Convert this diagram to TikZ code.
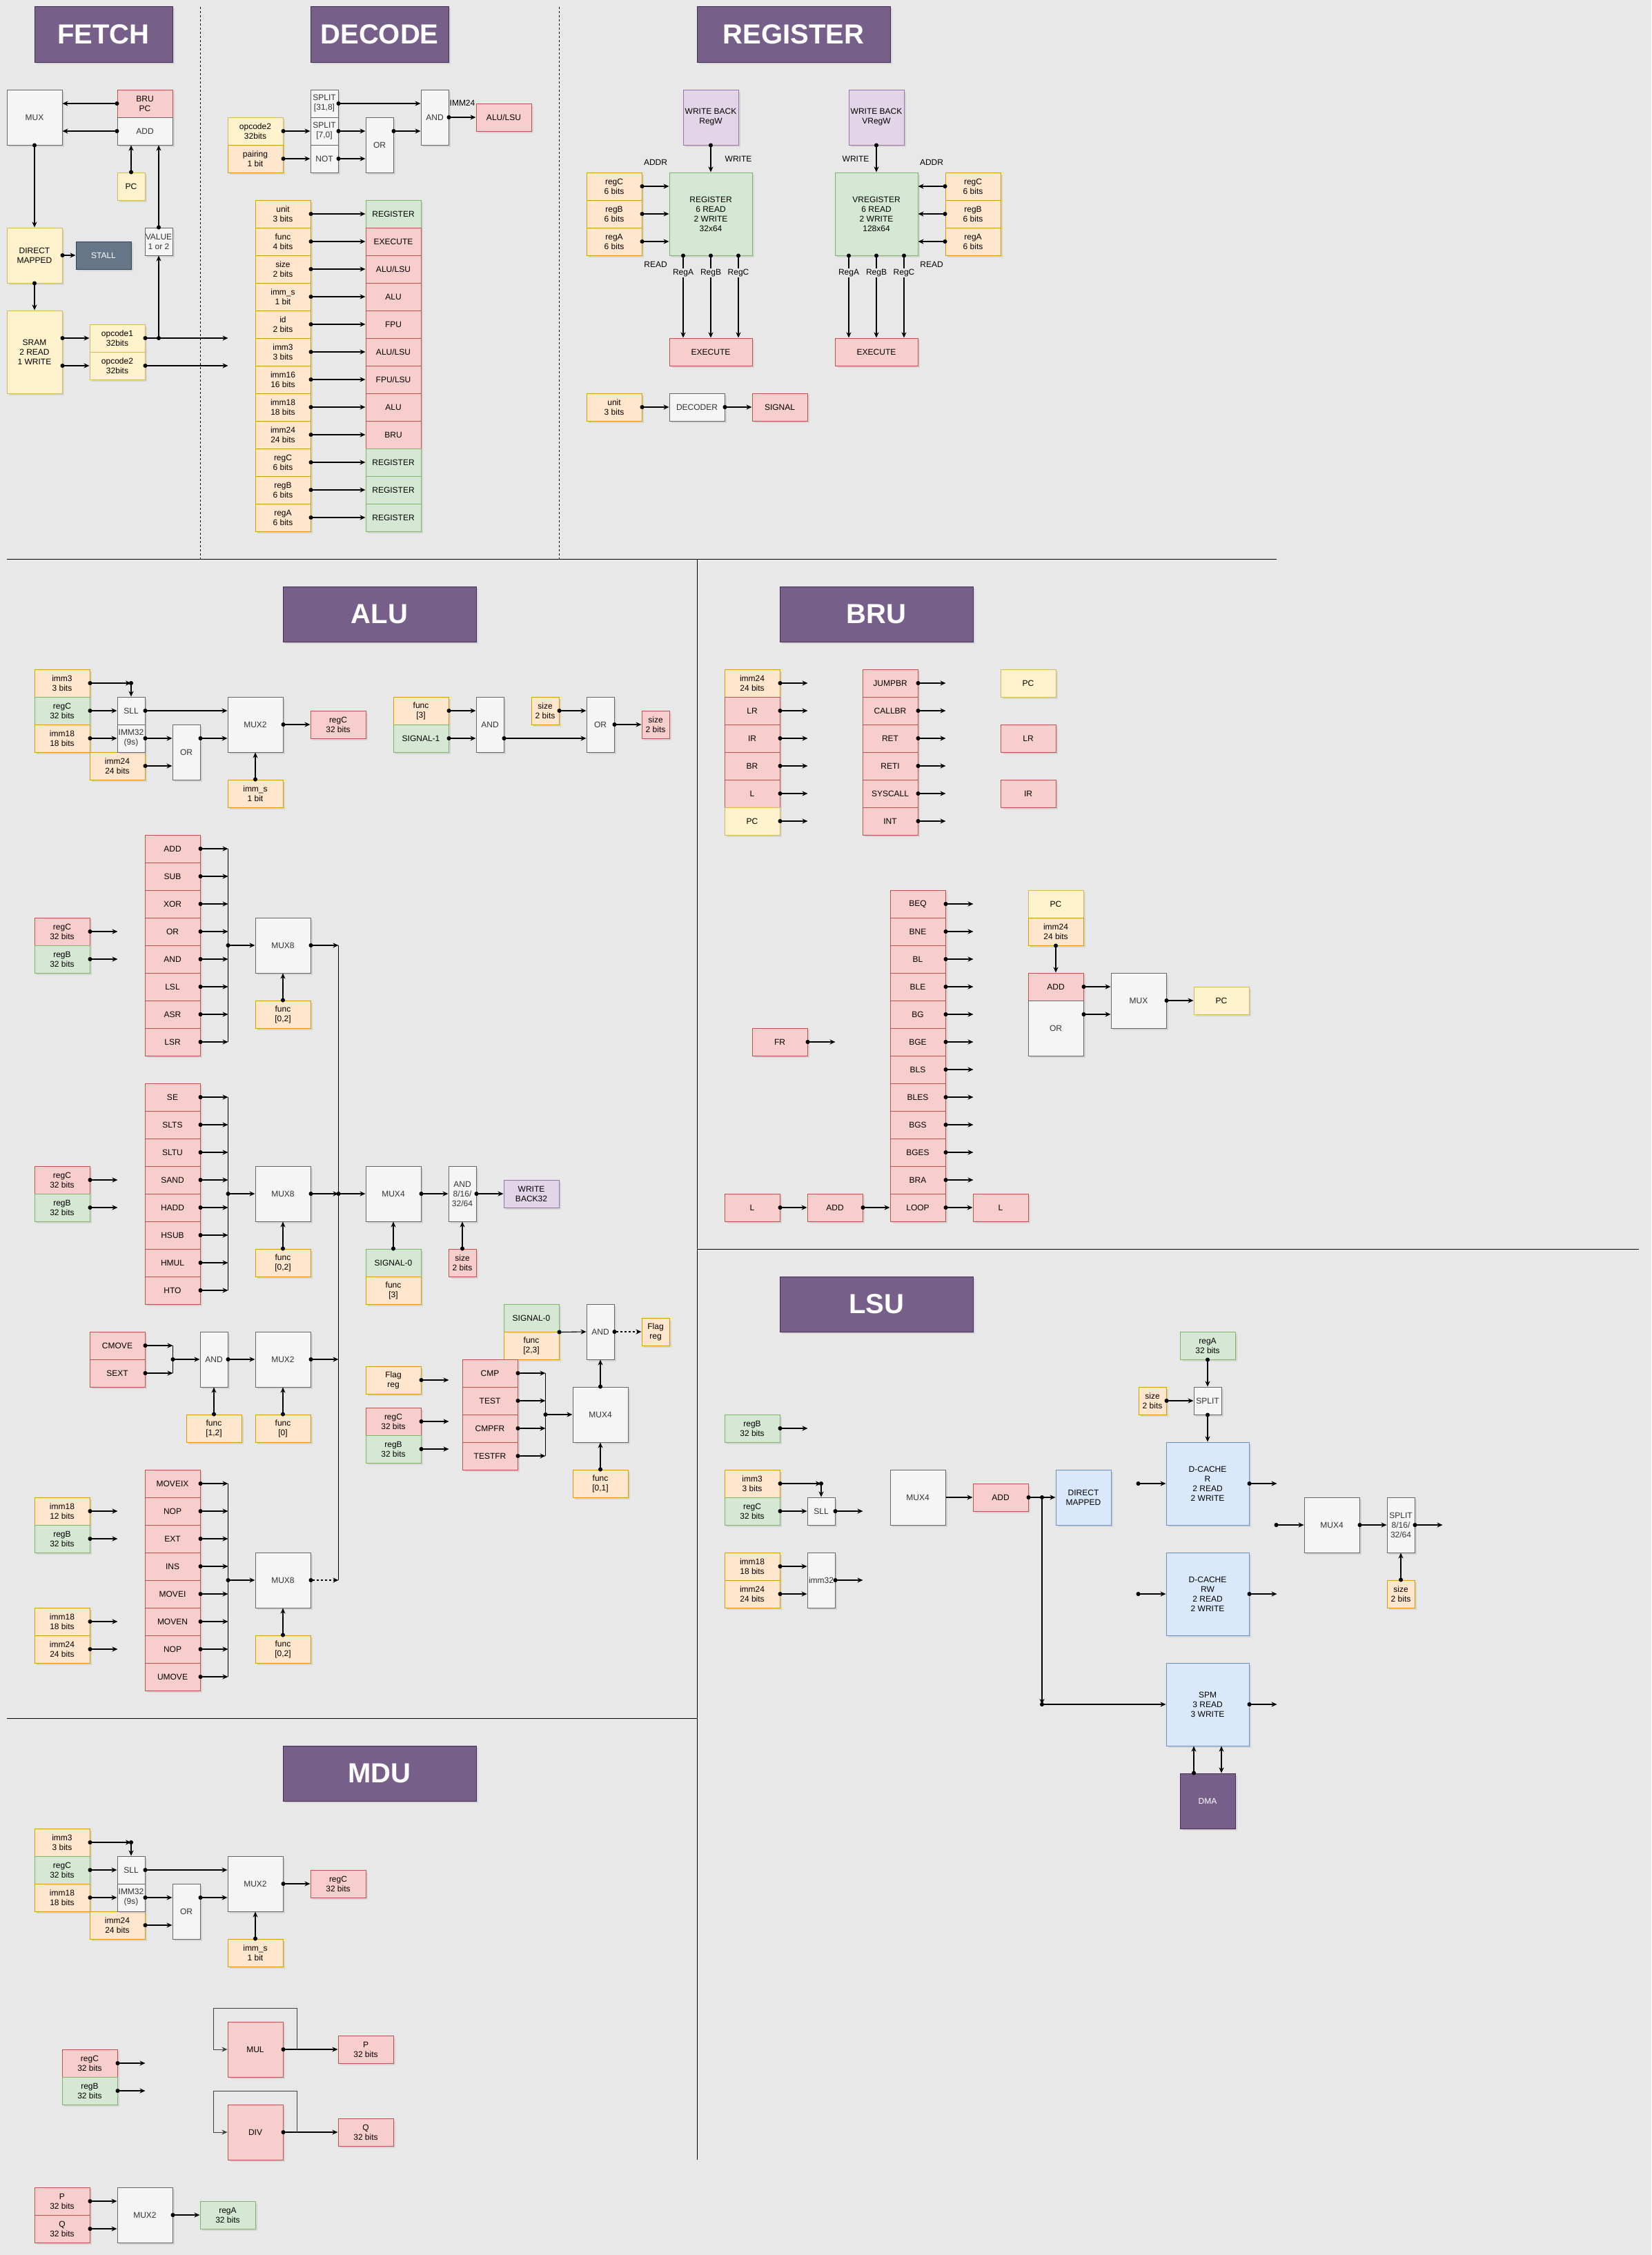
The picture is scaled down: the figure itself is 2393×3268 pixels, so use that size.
\documentclass[tikz,border=0pt]{standalone}
\usepackage{fontspec}
\setmainfont{Liberation Sans}
\usetikzlibrary{arrows.meta,shadows,calc}

\definecolor{bgc}{HTML}{E8E8E8}
\definecolor{yelF}{HTML}{FFF2CC}\definecolor{yelD}{HTML}{D6B656}
\definecolor{orgF}{HTML}{FFE6CC}\definecolor{orgD}{HTML}{D79B00}
\definecolor{redF}{HTML}{F8CECC}\definecolor{redD}{HTML}{B85450}
\definecolor{grnF}{HTML}{D5E8D4}\definecolor{grnD}{HTML}{82B366}
\definecolor{purF}{HTML}{E1D5E7}\definecolor{purD}{HTML}{9673A6}
\definecolor{bluF}{HTML}{DAE8FC}\definecolor{bluD}{HTML}{6C8EBF}
\definecolor{gryF}{HTML}{F5F5F5}\definecolor{gryD}{HTML}{666666}
\definecolor{gryT}{HTML}{333333}
\definecolor{ttlF}{HTML}{76608A}\definecolor{ttlD}{HTML}{432D57}
\definecolor{stlF}{HTML}{647687}\definecolor{stlD}{HTML}{314354}

\tikzset{
  cell/.style={draw, line width=1pt, minimum width=80pt, minimum height=40pt, inner sep=0pt, align=center,
    drop shadow={shadow xshift=2.5pt, shadow yshift=-2.5pt, opacity=.18}},
  sq/.style={minimum width=80pt, minimum height=80pt},
  nar/.style={minimum width=40pt, minimum height=40pt},
  tall/.style={minimum width=40pt, minimum height=80pt},
  big/.style={minimum width=120pt, minimum height=120pt},
  yelbox/.style={cell, fill=yelF, draw=yelD},
  orgbox/.style={cell, fill=orgF, draw=orgD},
  redbox/.style={cell, fill=redF, draw=redD},
  grnbox/.style={cell, fill=grnF, draw=grnD},
  purbox/.style={cell, fill=purF, draw=purD},
  blubox/.style={cell, fill=bluF, draw=bluD},
  grybox/.style={cell, fill=gryF, draw=gryD, text=gryT},
  stlbox/.style={cell, fill=stlF, draw=stlD, text=white},
  ttlbox/.style={cell, fill=ttlF, draw=ttlD, text=white, minimum width=280pt, minimum height=80pt,
    font=\fontsize{40}{48}\selectfont\bfseries},
  tag/.style={inner sep=1pt},
  wire/.style={line width=1.1pt, {Circle[length=6pt]}-{Stealth[length=8pt,width=7pt,inset=2.5pt]}, shorten <=-3pt},
  wirea/.style={line width=1.1pt, -{Stealth[length=8pt,width=7pt,inset=2.5pt]}},
  wireb/.style={line width=1.1pt, {Stealth[length=8pt,width=7pt,inset=2.5pt]}-{Stealth[length=8pt,width=7pt,inset=2.5pt]}},
  bus/.style={line width=1.1pt},
  divline/.style={line width=1pt},
  loopline/.style={line width=1pt, draw=black!75, -{Stealth[length=8pt,width=7pt,inset=2.5pt]}},
}

\begin{document}
\begin{tikzpicture}[x=1pt, y=-1pt, font=\fontsize{12}{14}\selectfont]
% Фон
\useasboundingbox (-10,-10) rectangle (2383,3258);
\fill[bgc] (-10,-10) rectangle (2383,3258);

% Разделители
\draw[divline, dash pattern=on 3pt off 3pt] (280,0) -- (280,800);
\draw[divline, dash pattern=on 3pt off 3pt] (800,0) -- (800,800);
\draw[divline] (0,800) -- (1840,800);
\draw[divline] (1000,800) -- (1000,3120);
\draw[divline] (1000,1800) -- (2365,1800);
\draw[divline] (0,2480) -- (1000,2480);

% FETCH
\node[ttlbox, minimum width=200pt] (tfetch) at (140,40) {FETCH};
\node[grybox, sq] (fmux) at (40,160) {MUX};
\node[redbox] (fbru) at (200,140) {BRU\\PC};
\node[grybox] (fadd) at (200,180) {ADD};
\node[yelbox, nar] (fpc) at (180,260) {PC};
\node[grybox, nar] (fval) at (220,340) {VALUE\\1 or 2};
\node[yelbox, sq] (fdm) at (40,360) {DIRECT\\MAPPED};
\node[stlbox] (fstall) at (140,360) {STALL};
\node[yelbox, minimum height=120pt] (fsram) at (40,500) {SRAM\\2 READ\\1 WRITE};
\node[yelbox] (fop1) at (160,480) {opcode1\\32bits};
\node[yelbox] (fop2) at (160,520) {opcode2\\32bits};
\draw[wire] (fbru.west) -- (fmux.east |- fbru.west);
\draw[wire] (fadd.west) -- (fmux.east |- fadd.west);
\draw[wire] (fpc.north) -- (fpc.north |- fadd.south);
\draw[wire] (fval.north) -- (fval.north |- fadd.south);
\draw[wire] (fmux.south) -- (fdm.north);
\draw[wire] (fdm.east) -- (fstall.west);
\draw[wire] (fdm.south) -- (fsram.north);
\draw[wire] (fsram.east |- fop1.west) -- (fop1.west);
\draw[wire] (fsram.east |- fop2.west) -- (fop2.west);
\draw[wire] (fop1.east) -- ++(120,0);
\draw[wire] (fop2.east) -- ++(120,0);
\draw[wire] (fval.south |- fop1.east) -- (fval.south);

% DECODE
\node[ttlbox, minimum width=200pt] (tdecode) at (540,40) {DECODE};
\node[yelbox] (dop2) at (360,180) {opcode2\\32bits};
\node[orgbox] (dpair) at (360,220) {pairing\\1 bit};
\node[grybox, nar] (dsp1) at (460,140) {SPLIT\\{[31,8]}};
\node[grybox, nar] (dsp2) at (460,180) {SPLIT\\{[7,0]}};
\node[grybox, nar] (dnot) at (460,220) {NOT};
\node[grybox, tall] (dor) at (540,200) {OR};
\node[grybox, tall] (dand) at (620,160) {AND};
\node[redbox] (dalu) at (720,160) {ALU/LSU};
\node[tag] (dimm) at (660,139) {IMM24};
\draw[wire] (dop2.east) -- (dsp2.west);
\draw[wire] (dpair.east) -- (dnot.west);
\draw[wire] (dsp1.east) -- (dand.west |- dsp1.east);
\draw[wire] (dsp2.east) -- (dor.west |- dsp2.east);
\draw[wire] (dnot.east) -- (dor.west |- dnot.east);
\draw[wire] (dor.east |- dsp2.east) -- (dand.west |- dsp2.east);
\draw[wire] (dand.east) -- (dalu.west);

% Поля инструкции
\foreach \lt/\rt/\st [count=\i from 0] in {unit\\3 bits/REGISTER/grnbox, func\\4 bits/EXECUTE/redbox,
    size\\2 bits/{ALU/LSU}/redbox, imm\_s\\1 bit/ALU/redbox, id\\2 bits/FPU/redbox,
    imm3\\3 bits/{ALU/LSU}/redbox, imm16\\16 bits/{FPU/LSU}/redbox, imm18\\18 bits/ALU/redbox,
    imm24\\24 bits/BRU/redbox, regC\\6 bits/REGISTER/grnbox, regB\\6 bits/REGISTER/grnbox,
    regA\\6 bits/REGISTER/grnbox} {
  \node[orgbox] (dl\i) at (400,300+40*\i) {\lt};
  \node[\st] (dr\i) at (560,300+40*\i) {\rt};
  \draw[wire] (dl\i.east) -- (dr\i.west);
}

% REGISTER
\node[ttlbox] (tregister) at (1140,40) {REGISTER};
\node[purbox, sq] (wbr) at (1020,160) {WRITE BACK\\RegW};
\node[purbox, sq] (wbv) at (1260,160) {WRITE BACK\\VRegW};
\node[grnbox, big] (rreg) at (1020,300) {REGISTER\\6 READ\\2 WRITE\\32x64};
\node[grnbox, big] (vreg) at (1260,300) {VREGISTER\\6 READ\\2 WRITE\\128x64};
\node[redbox, minimum width=120pt] (rex) at (1020,500) {EXECUTE};
\node[redbox, minimum width=120pt] (vex) at (1260,500) {EXECUTE};
\foreach \r [count=\i from 0] in {regC,regB,regA} {
  \node[orgbox] (rl\i) at (880,260+40*\i) {\r\\6 bits};
  \node[orgbox] (rr\i) at (1400,260+40*\i) {\r\\6 bits};
  \draw[wire] (rl\i.east) -- (rreg.west |- rl\i.east);
  \draw[wire] (rr\i.west) -- (vreg.east |- rr\i.west);
}
\draw[wire] (wbr.south) -- (rreg.north);
\draw[wire] (wbv.south) -- (vreg.north);
\foreach \r [count=\i from -1] in {RegA,RegB,RegC} {
  \draw[wire] ([xshift=\i*40pt]rreg.south) -- node[tag, fill=bgc, pos=.21] (rq\r) {\r} ([xshift=\i*40pt]rex.north);
  \draw[wire] ([xshift=\i*40pt]vreg.south) -- node[tag, fill=bgc, pos=.21] (vq\r) {\r} ([xshift=\i*40pt]vex.north);
}
\node[tag] (raddr) at (940,225) {ADDR};
\node[tag] (rwr) at (1060,220) {WRITE};
\node[tag] (vwr) at (1230,220) {WRITE};
\node[tag] (vaddr) at (1340,225) {ADDR};
\node[tag] (rrd) at (940,373) {READ};
\node[tag] (vrd) at (1340,373) {READ};
\node[orgbox] (runit) at (880,580) {unit\\3 bits};
\node[grybox] (rdec) at (1000,580) {DECODER};
\node[redbox] (rsig) at (1120,580) {SIGNAL};
\draw[wire] (runit.east) -- (rdec.west);
\draw[wire] (rdec.east) -- (rsig.west);

% ALU и MDU: выбор операнда
\foreach \p/\dy/\ttl in {a/0/ALU, m/1680/MDU} {
  \node[ttlbox] (\p-ttl) at (540,880+\dy) {\ttl};
  \node[orgbox] (\p-imm3) at (80,980+\dy) {imm3\\3 bits};
  \node[grnbox] (\p-regc) at (80,1020+\dy) {regC\\32 bits};
  \node[orgbox] (\p-imm18) at (80,1060+\dy) {imm18\\18 bits};
  \node[orgbox] (\p-imm24) at (160,1100+\dy) {imm24\\24 bits};
  \node[grybox, nar] (\p-sll) at (180,1020+\dy) {SLL};
  \node[grybox, nar] (\p-imm32) at (180,1060+\dy) {IMM32\\(9s)};
  \node[grybox, tall] (\p-or) at (260,1080+\dy) {OR};
  \node[grybox, sq] (\p-mux) at (360,1040+\dy) {MUX2};
  \node[redbox] (\p-out) at (480,1040+\dy) {regC\\32 bits};
  \node[orgbox] (\p-imms) at (360,1140+\dy) {imm\_s\\1 bit};
  \coordinate (\p-j) at (\p-sll.north |- \p-imm3.east);
  \draw[wire] (\p-imm3.east) -- (\p-j);
  \draw[wire] (\p-j) -- (\p-sll.north);
  \draw[wire] (\p-regc.east) -- (\p-sll.west);
  \draw[wire] (\p-imm18.east) -- (\p-imm32.west);
  \draw[wire] (\p-sll.east) -- (\p-mux.west |- \p-sll.east);
  \draw[wire] (\p-imm32.east) -- (\p-or.west |- \p-imm32.east);
  \draw[wire] (\p-imm24.east) -- (\p-or.west |- \p-imm24.east);
  \draw[wire] (\p-or.east |- \p-imm32.east) -- (\p-mux.west |- \p-imm32.east);
  \draw[wire] (\p-mux.east) -- (\p-out.west);
  \draw[wire] (\p-imms.north) -- (\p-mux.south);
}

% ALU: размер
\node[orgbox] (afn) at (600,1020) {func\\{[3]}};
\node[grnbox] (asg1) at (600,1060) {SIGNAL-1};
\node[grybox, tall] (aand) at (700,1040) {AND};
\node[orgbox, nar] (asz1) at (780,1020) {size\\2 bits};
\node[grybox, tall] (aor2) at (860,1040) {OR};
\node[redbox, nar] (asz2) at (940,1040) {size\\2 bits};
\draw[wire] (afn.east) -- (aand.west |- afn.east);
\draw[wire] (asg1.east) -- (aand.west |- asg1.east);
\draw[wire] (asz1.east) -- (aor2.west |- asz1.east);
\draw[wire] (aand.east |- asg1.east) -- (aor2.west |- asg1.east);
\draw[wire] (aor2.east) -- (asz2.west);

% ALU: группа 1
\node[redbox] (g1c) at (80,1340) {regC\\32 bits};
\node[grnbox] (g1r) at (80,1380) {regB\\32 bits};
\draw[wire] (g1c.east) -- ++(40,0);
\draw[wire] (g1r.east) -- ++(40,0);
\foreach \t [count=\i from 0] in {ADD,SUB,XOR,OR,AND,LSL,ASR,LSR} {
  \node[redbox] (g1o\i) at (240,1220+40*\i) {\t};
  \draw[wire] (g1o\i.east) -- ++(40,0) coordinate (g1b\i);
}
\draw[bus] (g1b0) -- (g1b7);
\node[grybox, sq] (g1mux) at (400,1360) {MUX8};
\node[orgbox] (g1f) at (400,1460) {func\\{[0,2]}};
\draw[wire] (g1b0 |- g1mux.west) -- (g1mux.west);
\draw[wire] (g1f.north) -- (g1mux.south);
\draw[wire] (g1mux.east) -- ++(40,0) coordinate (abus0);

% ALU: группа 2
\node[redbox] (g2c) at (80,1700) {regC\\32 bits};
\node[grnbox] (g2r) at (80,1740) {regB\\32 bits};
\draw[wire] (g2c.east) -- ++(40,0);
\draw[wire] (g2r.east) -- ++(40,0);
\foreach \t [count=\i from 0] in {SE,SLTS,SLTU,SAND,HADD,HSUB,HMUL,HTO} {
  \node[redbox] (g2o\i) at (240,1580+40*\i) {\t};
  \draw[wire] (g2o\i.east) -- ++(40,0) coordinate (g2b\i);
}
\draw[bus] (g2b0) -- (g2b7);
\node[grybox, sq] (g2mux) at (400,1720) {MUX8};
\node[orgbox] (g2f) at (400,1820) {func\\{[0,2]}};
\draw[wire] (g2b0 |- g2mux.west) -- (g2mux.west);
\draw[wire] (g2f.north) -- (g2mux.south);
\draw[wire] (g2mux.east) -- ++(40,0) coordinate (abus1);

% ALU: CMOVE / SEXT
\node[redbox] (acm) at (160,1940) {CMOVE};
\node[redbox] (asx) at (160,1980) {SEXT};
\draw[wire] (acm.east) -- ++(40,0) coordinate (acb0);
\draw[wire] (asx.east) -- ++(40,0) coordinate (acb1);
\draw[bus] (acb0) -- (acb1);
\node[grybox, tall] (aand3) at (300,1960) {AND};
\node[grybox, sq] (amx2b) at (400,1960) {MUX2};
\node[orgbox] (af12) at (300,2060) {func\\{[1,2]}};
\node[orgbox] (af0) at (400,2060) {func\\{[0]}};
\draw[wire] (acb0 |- aand3.west) -- (aand3.west);
\draw[wire] (aand3.east) -- (amx2b.west);
\draw[wire] (amx2b.east) -- (amx2b.east -| abus0);
\draw[wire] (af12.north) -- (aand3.south);
\draw[wire] (af0.north) -- (amx2b.south);

% ALU: группа 3
\node[orgbox] (g3a) at (80,2180) {imm18\\12 bits};
\node[grnbox] (g3b) at (80,2220) {regB\\32 bits};
\node[orgbox] (g3c) at (80,2340) {imm18\\18 bits};
\node[orgbox] (g3d) at (80,2380) {imm24\\24 bits};
\foreach \n in {g3a,g3b,g3c,g3d} \draw[wire] (\n.east) -- ++(40,0);
\foreach \t [count=\i from 0] in {MOVEIX,NOP,EXT,INS,MOVEI,MOVEN,NOP,UMOVE} {
  \node[redbox] (g3o\i) at (240,2140+40*\i) {\t};
  \draw[wire] (g3o\i.east) -- ++(40,0) coordinate (g3b\i);
}
\draw[bus] (g3b0) -- (g3b7);
\node[grybox, sq] (g3mux) at (400,2280) {MUX8};
\node[orgbox] (g3f) at (400,2380) {func\\{[0,2]}};
\draw[wire] (g3b0 |- g3mux.west) -- (g3mux.west);
\draw[wire] (g3f.north) -- (g3mux.south);
\draw[wire, dash pattern=on 3pt off 3pt] (g3mux.east) -- ++(40,0) coordinate (abus2);
\draw[bus] (abus0) -- (abus2);

% ALU: запись результата
\node[grybox, sq] (amx4) at (560,1720) {MUX4};
\node[grnbox] (asg0) at (560,1820) {SIGNAL-0};
\node[orgbox] (afn3) at (560,1860) {func\\{[3]}};
\node[grybox, tall] (aand8) at (660,1720) {AND\\8/16/\\32/64};
\node[redbox, nar] (asz) at (660,1820) {size\\2 bits};
\node[purbox] (awb) at (760,1720) {WRITE\\BACK32};
\draw[wire] (abus1) -- (amx4.west);
\draw[wire] (asg0.north) -- (amx4.south);
\draw[wire] (amx4.east) -- (aand8.west);
\draw[wire] (aand8.east) -- (awb.west);
\draw[wire] (asz.north) -- (aand8.south);

% ALU: флаги
\node[grnbox] (asg0b) at (760,1900) {SIGNAL-0};
\node[orgbox] (afn23) at (760,1940) {func\\{[2,3]}};
\node[grybox, tall] (aand4) at (860,1920) {AND};
\node[orgbox, nar] (aflg) at (940,1920) {Flag\\reg};
\draw[wire] (asg0b.south east) -- (aand4.west);
\draw[wire, dash pattern=on 3pt off 3pt] (aand4.east) -- (aflg.west);
\node[orgbox] (aflg2) at (560,1990) {Flag\\reg};
\node[redbox] (arc3) at (560,2050) {regC\\32 bits};
\node[grnbox] (arb3) at (560,2090) {regB\\32 bits};
\foreach \n in {aflg2,arc3,arb3} \draw[wire] (\n.east) -- ++(40,0);
\foreach \t [count=\i from 0] in {CMP,TEST,CMPFR,TESTFR} {
  \node[redbox] (ac\i) at (700,1980+40*\i) {\t};
  \draw[wire] (ac\i.east) -- ++(40,0) coordinate (acc\i);
}
\draw[bus] (acc0) -- (acc3);
\node[grybox, sq] (amx4b) at (860,2040) {MUX4};
\node[orgbox] (af01) at (860,2140) {func\\{[0,1]}};
\draw[wire] (acc0 |- amx4b.west) -- (amx4b.west);
\draw[wire] (amx4b.north) -- (aand4.south);
\draw[wire] (af01.north) -- (amx4b.south);

% BRU
\node[ttlbox] (tbru) at (1260,880) {BRU};
\foreach \t/\st [count=\i from 0] in {imm24\\24 bits/orgbox, LR/redbox, IR/redbox, BR/redbox, L/redbox, PC/yelbox} {
  \node[\st] (bl\i) at (1080,980+40*\i) {\t};
  \draw[wire] (bl\i.east) -- ++(40,0);
}
\foreach \t [count=\i from 0] in {JUMPBR,CALLBR,RET,RETI,SYSCALL,INT} {
  \node[redbox] (bm\i) at (1280,980+40*\i) {\t};
  \draw[wire] (bm\i.east) -- ++(40,0);
}
\node[yelbox] (bpc1) at (1480,980) {PC};
\node[redbox] (blr) at (1480,1060) {LR};
\node[redbox] (bir) at (1480,1140) {IR};
\foreach \t [count=\i from 0] in {BEQ,BNE,BL,BLE,BG,BGE,BLS,BLES,BGS,BGES,BRA} {
  \node[redbox] (bb\i) at (1320,1300+40*\i) {\t};
  \draw[wire] (bb\i.east) -- ++(40,0);
}
\node[redbox] (bloop) at (1320,1740) {LOOP};
\node[redbox] (blin) at (1080,1740) {L};
\node[redbox] (baddl) at (1200,1740) {ADD};
\node[redbox] (blout) at (1440,1740) {L};
\draw[wire] (blin.east) -- (baddl.west);
\draw[wire] (baddl.east) -- (bloop.west);
\draw[wire] (bloop.east) -- (blout.west);
\node[redbox] (bfr) at (1120,1500) {FR};
\draw[wire] (bfr.east) -- ++(40,0);
\node[yelbox] (bpc2) at (1520,1300) {PC};
\node[orgbox] (bimm) at (1520,1340) {imm24\\24 bits};
\node[redbox] (badd) at (1520,1420) {ADD};
\node[grybox, sq] (bor) at (1520,1480) {OR};
\node[grybox, sq] (bmux) at (1640,1440) {MUX};
\node[yelbox] (bpc3) at (1760,1440) {PC};
\coordinate (bj) at ([yshift=-20pt]bmux.west);
\draw[wire] (bimm.south) -- (badd.north);
\draw[wire] (badd.east) -- (bmux.west |- badd.east);
\draw[wire] (bj -| bor.east) -- (bj);
\draw[wire] (bmux.east) -- (bpc3.west);

% LSU
\node[ttlbox] (tlsu) at (1260,1880) {LSU};
\node[grnbox] (lrega) at (1740,1940) {regA\\32 bits};
\node[orgbox, nar] (lsz) at (1660,2020) {size\\2 bits};
\node[grybox, nar] (lspl) at (1740,2020) {SPLIT};
\node[blubox, big] (ldcr) at (1740,2140) {D-CACHE\\R\\2 READ\\2 WRITE};
\node[blubox, big] (ldcw) at (1740,2300) {D-CACHE\\RW\\2 READ\\2 WRITE};
\node[blubox, big] (lspm) at (1740,2460) {SPM\\3 READ\\3 WRITE};
\node[cell, sq, fill=ttlF, draw=ttlD, text=white] (ldma) at (1740,2600) {DMA};
\draw[wire] (lrega.south) -- (lspl.north);
\draw[wire] (lsz.east) -- (lspl.west);
\draw[wire] (lspl.south) -- (ldcr.north);
\draw[wire] ([xshift=-40pt]ldcr.west) -- (ldcr.west);
\draw[wire] ([xshift=-40pt]ldcw.west) -- (ldcw.west);
\draw[wire] (ldcr.east) -- ++(40,0);
\draw[wire] (ldcw.east) -- ++(40,0);
\draw[wire] (lspm.east) -- ++(40,0);
\draw[wire] ([xshift=-20pt]ldma.north) -- ([xshift=-20pt]lspm.south);
\draw[wireb] ([xshift=20pt]lspm.south) -- ([xshift=20pt]ldma.north);

\node[grnbox] (lregb) at (1080,2060) {regB\\32 bits};
\node[orgbox] (limm3) at (1080,2140) {imm3\\3 bits};
\node[grnbox] (lregc) at (1080,2180) {regC\\32 bits};
\node[grybox, nar] (lsll) at (1180,2180) {SLL};
\node[orgbox] (limm18) at (1080,2260) {imm18\\18 bits};
\node[orgbox] (limm24) at (1080,2300) {imm24\\24 bits};
\node[grybox, tall] (limm32) at (1180,2280) {imm32};
\coordinate (lj0) at (lsll.north |- limm3.east);
\draw[wire] (lregb.east) -- ++(40,0);
\draw[wire] (limm3.east) -- (lj0);
\draw[wire] (lj0) -- (lsll.north);
\draw[wire] (lregc.east) -- (lsll.west);
\draw[wire] (lsll.east) -- ++(40,0);
\draw[wire] (limm18.east) -- (limm32.west |- limm18.east);
\draw[wire] (limm24.east) -- (limm32.west |- limm24.east);
\draw[wire] (limm32.east) -- ++(40,0);

\node[grybox, sq] (lmux) at (1320,2160) {MUX4};
\node[redbox] (ladd) at (1440,2160) {ADD};
\node[blubox, sq] (ldm) at (1560,2160) {DIRECT\\MAPPED};
\coordinate (lj1) at ($(ladd.east)!0.5!(ldm.west)$);
\draw[wirea] (lmux.east) -- (ladd.west);
\draw[wire] (ladd.east) -- (ldm.west);
\draw[wire] (lj1) -- (lj1 |- lspm.west);
\draw[wire] (lj1 |- lspm.west) -- (lspm.west);

\node[grybox, sq] (lmux2) at (1920,2200) {MUX4};
\node[grybox, tall] (lspl2) at (2020,2200) {SPLIT\\8/16/\\32/64};
\node[orgbox, nar] (lsz2) at (2020,2300) {size\\2 bits};
\draw[wire] ([xshift=-40pt]lmux2.west) -- (lmux2.west);
\draw[wire] (lmux2.east) -- (lspl2.west);
\draw[wire] (lspl2.east) -- ++(40,0);
\draw[wire] (lsz2.north) -- (lspl2.south);

% MDU: умножение и деление
\node[redbox] (mrc) at (120,2980) {regC\\32 bits};
\node[grnbox] (mrb) at (120,3020) {regB\\32 bits};
\draw[wire] (mrc.east) -- ++(40,0);
\draw[wire] (mrb.east) -- ++(40,0);
\node[redbox, sq] (mmul) at (360,2960) {MUL};
\node[redbox] (mp) at (520,2960) {P\\32 bits};
\node[redbox, sq] (mdiv) at (360,3080) {DIV};
\node[redbox] (mq) at (520,3080) {Q\\32 bits};
\draw[loopline] (mmul.east) -- ++(20,0) -- ++(0,-60) -| ([xshift=-20pt]mmul.west) -- (mmul.west);
\draw[loopline] (mdiv.east) -- ++(20,0) -- ++(0,-60) -| ([xshift=-20pt]mdiv.west) -- (mdiv.west);
\draw[wire] (mmul.east) -- (mp.west);
\draw[wire] (mdiv.east) -- (mq.west);

\node[redbox] (mpp) at (80,3180) {P\\32 bits};
\node[redbox] (mqq) at (80,3220) {Q\\32 bits};
\node[grybox, sq] (mmx) at (200,3200) {MUX2};
\node[grnbox] (mra) at (320,3200) {regA\\32 bits};
\draw[wire] (mpp.east) -- (mmx.west |- mpp.east);
\draw[wire] (mqq.east) -- (mmx.west |- mqq.east);
\draw[wire] (mmx.east) -- (mra.west);
\end{tikzpicture}
\end{document}
